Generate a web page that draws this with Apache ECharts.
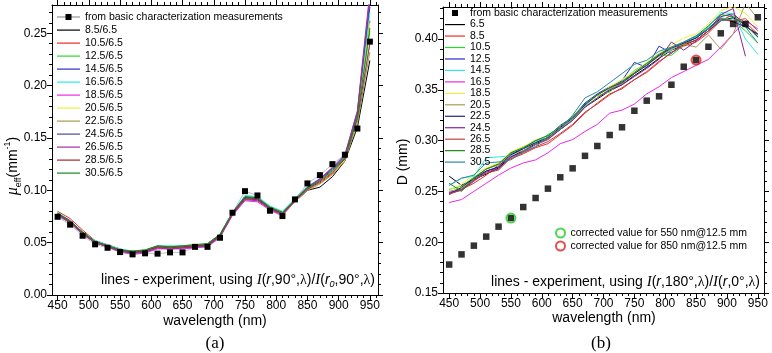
<!DOCTYPE html>
<html><head><meta charset="utf-8">
<script src="https://cdn.jsdelivr.net/npm/echarts@6/dist/echarts.min.js"></script>
<style>html,body{margin:0;padding:0;background:#fff}#c{width:772px;height:353px}</style>
</head><body><div id="c"></div>
<script>
// ---------- shared ----------
const waves = [450,470,490,510,530,550,570,590,610,630,650,670,690,710,730,750,770,790,810,830,850,870,890,910,930,950];
const xTickLabels = [450,500,550,600,650,700,750,800,850,900,950];
const squaresName = 'from basic characterization measurements';

// ---------- panel (a) ----------
const muTickLabels = [0, 0.05, 0.10, 0.15, 0.20, 0.25];
const muMeasured = [0.0747,0.0672,0.0566,0.0484,0.0451,0.0410,0.0388,0.0398,0.0395,0.0407,0.0407,0.0460,0.0460,0.0547,0.0786,0.0992,0.0951,0.0805,0.0754,0.0913,0.1066,0.1145,0.1250,0.1340,0.1590,0.2420];
const muLabels = ['8.5/6.5','10.5/6.5','12.5/6.5','14.5/6.5','16.5/6.5','18.5/6.5','20.5/6.5','22.5/6.5','24.5/6.5','26.5/6.5','28.5/6.5','30.5/6.5'];
const mu_8_5  = [.077,.069,.059,.050,.046,.042,.040,.041,.045,.044,.045,.046,.047,.056,.077,.092,.091,.082,.077,.089,.100,.103,.113,.128,.160,.224];
const mu_10_5 = [.080,.073,.062,.052,.048,.044,.041,.042,.045,.045,.046,.047,.048,.057,.078,.093,.092,.083,.078,.090,.101,.107,.116,.130,.168,.262];
const mu_12_5 = [.078,.070,.060,.051,.047,.043,.042,.043,.047,.046,.047,.048,.049,.058,.079,.094,.093,.084,.079,.091,.102,.109,.118,.131,.170,.252];
const mu_14_5 = [.077,.070,.059,.051,.047,.043,.041,.042,.046,.045,.046,.047,.048,.057,.078,.093,.092,.083,.078,.091,.103,.110,.120,.132,.172,.275];
const mu_16_5 = [.079,.071,.060,.052,.048,.044,.042,.043,.047,.047,.047,.048,.049,.058,.079,.095,.094,.085,.080,.092,.104,.111,.121,.132,.171,.270];
const mu_18_5 = [.076,.069,.058,.050,.046,.041,.039,.040,.044,.044,.044,.045,.046,.055,.076,.090,.089,.081,.076,.089,.101,.110,.121,.133,.175,.285];
const mu_20_5 = [.077,.070,.059,.051,.047,.043,.041,.042,.046,.045,.046,.047,.048,.057,.078,.092,.091,.083,.078,.090,.101,.108,.117,.129,.168,.260];
const mu_22_5 = [.078,.070,.060,.051,.047,.043,.041,.042,.045,.045,.046,.047,.048,.057,.077,.092,.091,.082,.077,.089,.100,.106,.115,.128,.165,.232];
const mu_24_5 = [.077,.070,.059,.051,.047,.043,.041,.042,.046,.046,.046,.047,.048,.057,.078,.093,.092,.083,.078,.091,.103,.111,.121,.133,.174,.280];
const mu_26_5 = [.076,.069,.058,.050,.046,.042,.040,.041,.045,.044,.045,.046,.047,.056,.077,.091,.090,.082,.077,.090,.102,.111,.122,.134,.176,.290];
const mu_28_5 = [.078,.071,.060,.051,.047,.043,.041,.042,.046,.045,.046,.047,.048,.057,.078,.092,.091,.083,.078,.090,.101,.108,.117,.130,.169,.240];
const mu_30_5 = [.078,.070,.060,.051,.047,.043,.042,.043,.047,.046,.047,.048,.049,.058,.079,.094,.093,.084,.079,.091,.102,.109,.119,.131,.170,.255];
const muLines = [mu_8_5,mu_10_5,mu_12_5,mu_14_5,mu_16_5,mu_18_5,mu_20_5,mu_22_5,mu_24_5,mu_26_5,mu_28_5,mu_30_5];
const muColors = ['#000000','#ee2a2a','#2ad82a','#2a2acc','#2ae8e8','#e82ae8','#eeee44','#a89a55','#4a4a90','#a030a0','#a02828','#1a881a'];

// ---------- panel (b) ----------
const dTickLabels = [0.15, 0.20, 0.25, 0.30, 0.35, 0.40];
const dMeasured = [0.178,0.188,0.1966,0.2055,0.2153,0.2238,0.2346,0.2435,0.2527,0.2639,0.2727,0.2850,0.2947,0.3055,0.3131,0.3294,0.3393,0.3436,0.3550,0.3727,0.3793,0.3924,0.4056,0.4148,0.4148,0.4214];
const dLabels = ['6.5','8.5','10.5','12.5','14.5','16.5','18.5','20.5','22.5','24.5','26.5','28.5','30.5'];
const d_6_5  = [.265,.256,.262,.267,.273,.284,.290,.297,.302,.311,.320,.333,.341,.349,.355,.364,.372,.381,.389,.394,.399,.408,.418,.421,.414,.402];
const d_8_5  = [.248,.252,.258,.266,.276,.282,.287,.293,.297,.306,.315,.327,.337,.346,.351,.360,.367,.377,.387,.393,.397,.406,.418,.424,.416,.405];
const d_10_5 = [.252,.255,.264,.272,.277,.288,.294,.297,.306,.312,.324,.336,.344,.348,.358,.369,.376,.384,.384,.394,.402,.411,.421,.418,.408,.396];
const d_12_5 = [.249,.252,.261,.270,.274,.287,.292,.300,.304,.315,.323,.337,.346,.353,.359,.377,.372,.393,.386,.396,.401,.410,.422,.425,.413,.404];
const d_14_5 = [.256,.263,.265,.283,.284,.285,.292,.299,.304,.312,.321,.334,.342,.350,.356,.366,.374,.383,.389,.396,.402,.412,.426,.425,.400,.385];
const d_16_5 = [.239,.242,.250,.258,.266,.273,.278,.281,.288,.297,.301,.309,.316,.327,.330,.336,.346,.353,.362,.368,.374,.380,.392,.405,.418,.410];
const d_18_5 = [.251,.257,.267,.273,.278,.289,.294,.301,.304,.314,.323,.336,.344,.353,.360,.368,.377,.386,.394,.401,.405,.415,.428,.432,.425,.412];
const d_20_5 = [.250,.253,.262,.272,.276,.287,.290,.298,.302,.312,.320,.333,.342,.351,.356,.366,.375,.383,.390,.395,.392,.404,.390,.405,.435,.420];
const d_22_5 = [.247,.254,.263,.270,.274,.286,.292,.298,.303,.313,.322,.335,.345,.352,.357,.366,.374,.384,.391,.396,.401,.410,.420,.417,.412,.405];
const d_24_5 = [.248,.251,.260,.269,.272,.284,.289,.296,.301,.311,.320,.333,.342,.350,.355,.363,.371,.380,.397,.389,.398,.408,.424,.430,.383,null];
const d_26_5 = [.247,.252,.261,.268,.271,.283,.288,.294,.299,.307,.316,.328,.336,.345,.352,.360,.368,.378,.386,.395,.399,.408,.419,.418,.420,.408];
const d_28_5 = [.258,.250,.263,.272,.277,.288,.293,.300,.305,.314,.323,.336,.345,.352,.358,.367,.376,.385,.392,.397,.403,.413,.424,.422,.414,.402];
const d_30_5 = [.256,.263,.266,.278,.279,.281,.289,.294,.304,.311,.325,.342,.348,.357,.366,.375,.379,.388,.392,.397,.403,.410,.418,.420,.412,.396];
const dLines = [d_6_5,d_8_5,d_10_5,d_12_5,d_14_5,d_16_5,d_18_5,d_20_5,d_22_5,d_24_5,d_26_5,d_28_5,d_30_5];
const dColors = ['#000000','#ee2a2a','#2ad82a','#2a2acc','#2ae8e8','#e82ae8','#eeee44','#a89a55','#22226e','#902090','#c04040','#1a881a','#2a8c9c'];
const corrected550 = [[550, 0.2238]];
const corrected850 = [[850, 0.3793]];
const corrected550Name = 'corrected value for 550 nm@12.5 mm';
const corrected850Name = 'corrected value for 850 nm@12.5 mm';

// ---------- build ----------
const FONT = '"Liberation Sans", Arial, sans-serif';
const SERIF = '"Liberation Serif", "Times New Roman", serif';
function range(a, b, s) { const r = []; for (let v = a; v <= b + 1e-9; v += s) r.push(+v.toFixed(4)); return r; }

function axesFor(g, xmin, xmax, ymin, ymax, yMajor) {
  const xMinor = range(450, Math.floor(xmax / 10) * 10, 10);
  const yMinor = range(ymin, ymax, 0.01);
  const line = { show: true, onZero: false, lineStyle: { color: '#000', width: 1 } };
  const base = { gridIndex: g, type: 'value', splitLine: { show: false }, scale: true };
  const xs = [
    Object.assign({}, base, { min: xmin, max: xmax, position: 'bottom', axisLine: line,
      axisTick: { show: true, customValues: xTickLabels, length: 5, lineStyle: { color: '#000' } },
      axisLabel: { show: true, customValues: xTickLabels, margin: 5, color: '#000', fontSize: 12, fontFamily: FONT } }),
    Object.assign({}, base, { min: xmin, max: xmax, position: 'bottom', axisLine: { show: false, onZero: false },
      axisTick: { show: true, customValues: xMinor, length: 3, lineStyle: { color: '#000' } }, axisLabel: { show: false } }),
    Object.assign({}, base, { min: xmin, max: xmax, position: 'top', axisLine: line,
      axisTick: { show: true, customValues: xTickLabels, length: 5, lineStyle: { color: '#000' } }, axisLabel: { show: false } }),
    Object.assign({}, base, { min: xmin, max: xmax, position: 'top', axisLine: { show: false, onZero: false },
      axisTick: { show: true, customValues: xMinor, length: 3, lineStyle: { color: '#000' } }, axisLabel: { show: false } })
  ];
  const ys = [
    Object.assign({}, base, { min: ymin, max: ymax, position: 'left', axisLine: line,
      axisTick: { show: true, customValues: yMajor, length: 5, lineStyle: { color: '#000' } },
      axisLabel: { show: true, customValues: yMajor, margin: 5, color: '#000', fontSize: 12, fontFamily: FONT,
        formatter: v => (+v).toFixed(2) } }),
    Object.assign({}, base, { min: ymin, max: ymax, position: 'left', axisLine: { show: false, onZero: false },
      axisTick: { show: true, customValues: yMinor, length: 3, lineStyle: { color: '#000' } }, axisLabel: { show: false } }),
    Object.assign({}, base, { min: ymin, max: ymax, position: 'right', axisLine: line,
      axisTick: { show: true, customValues: yMajor, length: 5, lineStyle: { color: '#000' } }, axisLabel: { show: false } }),
    Object.assign({}, base, { min: ymin, max: ymax, position: 'right', axisLine: { show: false, onZero: false },
      axisTick: { show: true, customValues: yMinor, length: 3, lineStyle: { color: '#000' } }, axisLabel: { show: false } })
  ];
  return { xs, ys };
}

const A = axesFor(0, 441, 963, 0, 0.277, muTickLabels);
const B = axesFor(1, 440, 960, 0.15, 0.4315, dTickLabels);

const series = [];
muLines.forEach((arr, i) => series.push({
  type: 'line', name: muLabels[i], xAxisIndex: 0, yAxisIndex: 0,
  data: waves.map((w, j) => [w, arr[j]]), symbol: 'none', showSymbol: false,
  lineStyle: { width: 1, color: muColors[i] }, itemStyle: { color: muColors[i] }, z: 2
}));
series.push({
  type: 'line', name: squaresName, xAxisIndex: 0, yAxisIndex: 0,
  data: waves.map((w, j) => [w, muMeasured[j]]), symbol: 'rect', symbolSize: 6, showSymbol: true,
  lineStyle: { width: 0.4, color: '#666' }, itemStyle: { color: '#000' }, z: 4
});
dLines.forEach((arr, i) => series.push({
  type: 'line', name: dLabels[i], xAxisIndex: 4, yAxisIndex: 4,
  data: waves.map((w, j) => [w, arr[j]]), symbol: 'none', showSymbol: false, connectNulls: false,
  lineStyle: { width: 1, color: dColors[i] }, itemStyle: { color: dColors[i] }, z: 2
}));
series.push({
  type: 'scatter', name: squaresName, xAxisIndex: 4, yAxisIndex: 4,
  data: waves.map((w, j) => [w, dMeasured[j]]), symbol: 'rect', symbolSize: 6.5,
  itemStyle: { color: '#000' }, z: 4
});
series.push({
  type: 'scatter', name: corrected550Name, xAxisIndex: 4, yAxisIndex: 4, data: corrected550,
  symbol: 'circle', symbolSize: 9, itemStyle: { color: 'rgba(0,0,0,0)', borderColor: '#22cc22', borderWidth: 2 }, z: 5
});
series.push({
  type: 'scatter', name: corrected850Name, xAxisIndex: 4, yAxisIndex: 4, data: corrected850,
  symbol: 'circle', symbolSize: 9, itemStyle: { color: 'rgba(0,0,0,0)', borderColor: '#dd2222', borderWidth: 2 }, z: 5
});

const legendText = (lh) => ({ fontSize: 10.5, lineHeight: lh, color: '#000', fontFamily: FONT });
const lineIconA = 'path://M0,0M23,8M0,3.5h23v1.2h-23z';
const lineIconB = 'path://M0,0M20,8M0,3.5h20v1.2h-20z';

const annRich = {
  n: { fontFamily: FONT, fontSize: 14, fill: '#000', lineHeight: 18 },
  I: { fontFamily: SERIF, fontStyle: 'italic', fontSize: 15, fill: '#000', lineHeight: 18 },
  r: { fontFamily: FONT, fontStyle: 'italic', fontSize: 14, fill: '#000', lineHeight: 18 },
  l: { fontFamily: SERIF, fontSize: 14, fill: '#000', lineHeight: 18 },
  s: { fontFamily: FONT, fontStyle: 'italic', fontSize: 9, fill: '#000', lineHeight: 9, verticalAlign: 'bottom' }
};

const option = {
  animation: false,
  backgroundColor: '#fff',
  grid: [
    { left: 52, top: 5, width: 326, height: 290, containLabel: false, outerBoundsMode: 'none' },
    { left: 443, top: 7, width: 321, height: 286, containLabel: false, outerBoundsMode: 'none' }
  ],
  xAxis: A.xs.concat(B.xs),
  yAxis: A.ys.concat(B.ys),
  legend: [
    { orient: 'vertical', left: 57, top: 10.5, padding: 0, itemGap: 0, itemWidth: 23, itemHeight: 8,
      selectedMode: false, textStyle: legendText(13),
      data: [{ name: squaresName, icon: 'path://M0,0M23,8M0,3.7h23v0.6h-23zM8.5,1h6v6h-6z' }]
        .concat(muLabels.map(n => ({ name: n, icon: lineIconA }))) },
    { orient: 'vertical', left: 445, top: 7.3, padding: 0, itemGap: 0, itemWidth: 20, itemHeight: 8,
      selectedMode: false, textStyle: legendText(11.46),
      data: [{ name: squaresName, icon: 'path://M0,0M20,8M7,1h6v6h-6z' }]
        .concat(dLabels.map(n => ({ name: n, icon: lineIconB }))) },
    { orient: 'vertical', left: 555, top: 226.5, padding: 0, itemGap: 0, itemWidth: 10, itemHeight: 9,
      selectedMode: false, textStyle: legendText(13),
      data: [
        { name: corrected550Name, icon: 'circle', itemStyle: { color: 'rgba(0,0,0,0)', borderColor: '#22cc22', borderWidth: 2 } },
        { name: corrected850Name, icon: 'circle', itemStyle: { color: 'rgba(0,0,0,0)', borderColor: '#dd2222', borderWidth: 2 } }
      ] }
  ],
  graphic: [
    { type: 'text', x: 13, y: 166, rotation: Math.PI / 2, silent: true,
      style: { text: '{mu|μ}{sb|eff}{n|(mm}{sp|-1}{n|)}', align: 'center', verticalAlign: 'middle',
        rich: {
          mu: { fontFamily: SERIF, fontStyle: 'italic', fontSize: 16, fill: '#000', lineHeight: 20 },
          n: { fontFamily: FONT, fontSize: 14, fill: '#000', lineHeight: 20 },
          sb: { fontFamily: FONT, fontSize: 9, fill: '#000', lineHeight: 10, verticalAlign: 'bottom' },
          sp: { fontFamily: FONT, fontSize: 9, fill: '#000', lineHeight: 10, verticalAlign: 'top' }
        } } },
    { type: 'text', x: 403, y: 162, rotation: Math.PI / 2, silent: true,
      style: { text: 'D (mm)', align: 'center', verticalAlign: 'middle', font: '14px ' + FONT, fill: '#000' } },
    { type: 'text', x: 215, y: 321, silent: true,
      style: { text: 'wavelength (nm)', align: 'center', verticalAlign: 'middle', font: '14px ' + FONT, fill: '#000' } },
    { type: 'text', x: 604, y: 318, silent: true,
      style: { text: 'wavelength (nm)', align: 'center', verticalAlign: 'middle', font: '14px ' + FONT, fill: '#000' } },
    { type: 'text', x: 375, y: 280, silent: true,
      style: { text: '{n|lines - experiment, using }{I|I}{n|(}{r|r}{n|,90°,}{l|λ}{n|)/}{I|I}{n|(}{r|r}{s|0}{n|,90°,}{l|λ}{n|)}',
        align: 'right', verticalAlign: 'middle', rich: annRich } },
    { type: 'text', x: 760, y: 282, silent: true,
      style: { text: '{n|lines - experiment, using }{I|I}{n|(}{r|r}{n|,180°,}{l|λ}{n|)/}{I|I}{n|(}{r|r}{n|,0°,}{l|λ}{n|)}',
        align: 'right', verticalAlign: 'middle', rich: annRich } },
    { type: 'text', x: 215, y: 344, silent: true,
      style: { text: '(a)', align: 'center', verticalAlign: 'middle', font: '17px ' + SERIF, fill: '#000' } },
    { type: 'text', x: 601, y: 344, silent: true,
      style: { text: '(b)', align: 'center', verticalAlign: 'middle', font: '17px ' + SERIF, fill: '#000' } }
  ],
  series: series
};

const chart = echarts.init(document.getElementById('c'), null, { renderer: 'canvas', width: 772, height: 353 });
chart.setOption(option);
</script>
</body></html>
